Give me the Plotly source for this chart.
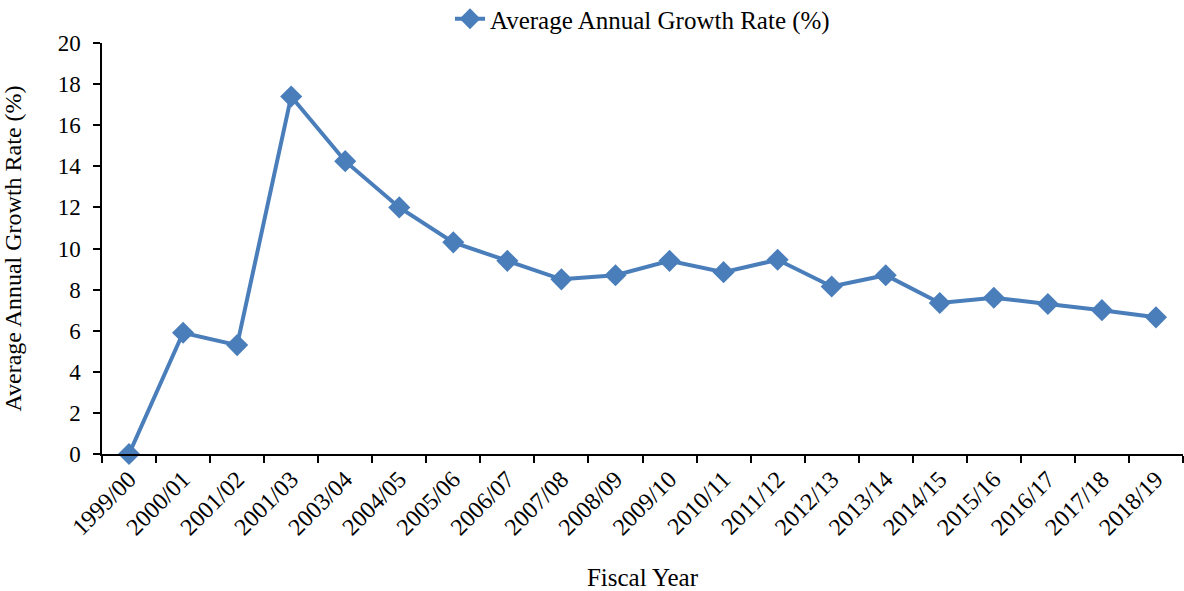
import plotly.graph_objects as go

years = ["1999/00", "2000/01", "2001/02", "2001/03", "2003/04", "2004/05", "2005/06",
         "2006/07", "2007/08", "2008/09", "2009/10", "2010/11", "2011/12", "2012/13",
         "2013/14", "2014/15", "2015/16", "2016/17", "2017/18", "2018/19"]
growth = [0.0, 5.9, 5.3, 17.4, 14.25, 12.0, 10.3, 9.4, 8.5, 8.7, 9.4, 8.85, 9.45,
          8.15, 8.7, 7.35, 7.6, 7.3, 7.0, 6.65]
y_ticks = [0, 2, 4, 6, 8, 10, 12, 14, 16, 18, 20]

font_family = "Liberation Serif"
blue = "#4A7EBB"

fig = go.Figure()
fig.add_trace(go.Scatter(
    x=years, y=growth, mode="lines+markers",
    name="Average Annual Growth Rate (%)",
    line=dict(color=blue, width=4),
    marker=dict(symbol="diamond", size=17, color=blue),
    cliponaxis=False,
))

fig.update_layout(
    width=1184, height=591,
    margin=dict(l=102, r=1, t=43, b=137, autoexpand=False),
    paper_bgcolor="white", plot_bgcolor="white",
    font=dict(family=font_family, size=24, color="black"),
    showlegend=True,
    legend=dict(x=0.5, xanchor="center", y=1 - 19 / 591, yanchor="middle",
                yref="container",
                orientation="h", font=dict(size=25, family=font_family),
                bgcolor="rgba(0,0,0,0)"),
)
fig.update_xaxes(
    type="category", tickangle=-45, tickson="boundaries",
    ticks="outside", ticklen=7, tickwidth=1.5, tickcolor="black",
    showline=True, linecolor="black", linewidth=1.5,
    showgrid=False, zeroline=False, automargin=False,
    tickfont=dict(size=24, family=font_family),
    title=dict(text="Fiscal Year", font=dict(size=25, family=font_family), standoff=30),
    range=[-0.5, len(years) - 0.5],
)
fig.update_yaxes(
    range=[0, 20], tickvals=y_ticks,
    ticks="outside", ticklen=7, tickwidth=1.5, tickcolor="black",
    showline=True, linecolor="black", linewidth=1.5,
    showgrid=False, zeroline=False, automargin=False,
    ticklabelstandoff=8,
    tickfont=dict(size=23, family=font_family),
    title=dict(text="Average Annual Growth Rate (%)", font=dict(size=24, family=font_family), standoff=30),
)

fig.write_html("out.html")
